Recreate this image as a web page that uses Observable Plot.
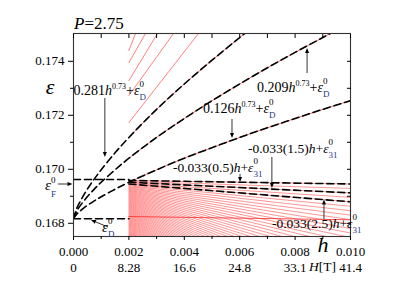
<!DOCTYPE html>
<html><head><meta charset="utf-8">
<script src="https://cdn.jsdelivr.net/npm/d3@7"></script>
<script src="https://cdn.jsdelivr.net/npm/@observablehq/plot@0.6"></script>
<style>html,body{margin:0;padding:0;background:#fff;} svg{display:block} svg text{font-family:"Liberation Serif","Times New Roman","DejaVu Serif",serif;}</style>
</head><body><div id="chart"></div>
<script>
// ---- tick values and labels ----
const xMajor = [0, 0.002, 0.004, 0.006, 0.008, 0.010];
const xMinor = [0.001, 0.003, 0.005, 0.007, 0.009];
const xMajorLabels = ["0.000", "0.002", "0.004", "0.006", "0.008", "0.010"];
const fieldLabels = ["0", "8.28", "16.6", "24.8", "33.1", "41.4"];
const yMajor = [0.168, 0.170, 0.172, 0.174];
const yMinor = [0.169, 0.171, 0.173];
const yMajorLabels = ["0.168", "0.170", "0.172", "0.174"];

// ---- levels ----
const epsD0 = 0.16817;
const epsF0 = 0.16962;
const hLeft = [0, 0.002];
const hSpan = [0.002, 0.010];

// dashed asymptotic curves c*h^0.73 + epsD0
const hCurve = [0, 0.0001, 0.0002, 0.0004, 0.0006, 0.0008, 0.001, 0.0015, 0.002, 0.003, 0.004, 0.005, 0.006, 0.007, 0.008, 0.009, 0.010];
const curve281 = [0.16817, 0.16851, 0.16873, 0.16910, 0.16942, 0.16971, 0.16998, 0.17061, 0.17118, 0.17222, 0.17316, 0.17404, 0.17488, 0.17568, 0.17645, 0.17719, 0.17791];
const curve209 = [0.16817, 0.16842, 0.16859, 0.16886, 0.16910, 0.16932, 0.16952, 0.16998, 0.17041, 0.17118, 0.17188, 0.17254, 0.17316, 0.17376, 0.17433, 0.17488, 0.17542];
const curve126 = [0.16817, 0.16832, 0.16842, 0.16859, 0.16873, 0.16886, 0.16898, 0.16926, 0.16952, 0.16998, 0.17041, 0.17080, 0.17118, 0.17154, 0.17188, 0.17222, 0.17254];

// dashed asymptotic lines -0.033(k)h + eps31 (k = 0.5, 1.5, 2.5)
const asymStart = [0.169587, 0.169521, 0.169455];
const asymEnd = [0.169455, 0.169125, 0.168795];

// red computed levels: lower fan (value at h=0.002 and h=0.010)
const fanStart = [0.169587,0.169554,0.169521,0.169488,0.169455,0.169422,0.169389,0.169356,0.169323,0.169290,0.169257,0.169224,0.169191,0.169158,0.169125,0.169092,0.169059,0.169026,0.168993,0.168960,0.168927,0.168894,0.168861,0.168828,0.168795,0.168762,0.168729,0.168696,0.168663,0.168630,0.168597,0.168564,0.168531,0.168498,0.168465,0.168432,0.168399,0.168366,0.168333,0.168300,0.168267,0.168234,0.168201,0.168168,0.168135,0.168102,0.168069,0.168036,0.168003,0.167970,0.167937,0.167904,0.167871,0.167838,0.167805,0.167772,0.167739,0.167706,0.167673,0.167640,0.167607,0.167574,0.167541];
const fanEnd = [0.169455,0.169290,0.169125,0.168960,0.168795,0.168630,0.168465,0.168300,0.168135,0.167970,0.167805,0.167640,0.167475,0.167310,0.167145,0.166980,0.166815,0.166650,0.166485,0.166320,0.166155,0.165990,0.165825,0.165660,0.165495,0.165330,0.165165,0.165000,0.164835,0.164670,0.164505,0.164340,0.164175,0.164010,0.163845,0.163680,0.163515,0.163350,0.163185,0.163020,0.162855,0.162690,0.162525,0.162360,0.162195,0.162030,0.161865,0.161700,0.161535,0.161370,0.161205,0.161040,0.160875,0.160710,0.160545,0.160380,0.160215,0.160050,0.159885,0.159720,0.159555,0.159390,0.159225];
// flat D-like level
const dLevel = [0.16825, 0.16813];
// steep upper levels: value at h=0.002 and exit point at the top
const upperStart = [0.174396, 0.173952, 0.173285, 0.172730, 0.171730];
const upperEndH = [0.002238, 0.002599, 0.003032, 0.003610, 0.004513];
const upperEndV = [0.17503, 0.17503, 0.17503, 0.17503, 0.17503];

// ---- tables ----
const fanRows = fanStart.flatMap((v, i) => [{h: hSpan[0], v, id: i}, {h: hSpan[1], v: fanEnd[i], id: i}]);
const upperRows = upperStart.flatMap((v, i) => [{h: hSpan[0], v, id: i}, {h: upperEndH[i], v: upperEndV[i], id: i}]);
const curveRows = (arr, name) => hCurve.map((h, i) => ({h, v: arr[i], id: name}));
const dashedCurves = [...curveRows(curve281, "a"), ...curveRows(curve209, "b"), ...curveRows(curve126, "c")];
const redCurves = dashedCurves.filter(d => d.h >= 0.002);
const asymRows = asymStart.flatMap((v, i) => [{h: hSpan[0], v, id: i}, {h: hSpan[1], v: asymEnd[i], id: i}]);
const flatRows = [
  {h: hLeft[0], v: epsD0, id: "D"}, {h: hLeft[1], v: epsD0, id: "D"},
  {h: hLeft[0], v: epsF0, id: "F"}, {h: hLeft[1], v: epsF0, id: "F"}
];
const dRows = [{h: hSpan[0], v: dLevel[0]}, {h: hSpan[1], v: dLevel[1]}];

const RED = "#ff2a2a";
const DASH = "7,4";
const SERIF = "'Liberation Serif','Times New Roman','DejaVu Serif',serif";
const idx = (arr, d) => arr.findIndex(t => Math.abs(t - d) < 1e-9);

const plot = Plot.plot({
  width: 407, height: 284,
  marginLeft: 73, marginRight: 57, marginTop: 33, marginBottom: 48,
  x: {domain: [0, 0.010]},
  y: {domain: [0.16751, 0.17503]},
  style: {fontFamily: SERIF, background: "white", color: "black"},
  marks: [
    Plot.line(fanRows, {x: "h", y: "v", z: "id", stroke: RED, strokeWidth: 0.5, clip: true}),
    Plot.line(dRows, {x: "h", y: "v", stroke: RED, strokeWidth: 0.8, clip: true}),
    Plot.line(upperRows, {x: "h", y: "v", z: "id", stroke: RED, strokeWidth: 0.6, clip: true}),
    Plot.line(redCurves, {x: "h", y: "v", z: "id", stroke: RED, strokeWidth: 0.7, curve: "catmull-rom", clip: true}),
    Plot.line(dashedCurves, {x: "h", y: "v", z: "id", stroke: "black", strokeWidth: 1.6, strokeDasharray: DASH, curve: "catmull-rom", clip: true}),
    Plot.line(asymRows, {x: "h", y: "v", z: "id", stroke: "black", strokeWidth: 1.6, strokeDasharray: DASH, clip: true}),
    Plot.line(flatRows, {x: "h", y: "v", z: "id", stroke: "black", strokeWidth: 1.6, strokeDasharray: DASH, clip: true}),
    Plot.frame({stroke: "#333", strokeWidth: 1.1}),
    // left axis
    Plot.axisY({ticks: yMajor, tickSize: 5, tickPadding: 4, fontSize: 13, label: null,
      tickFormat: d => yMajorLabels[idx(yMajor, d)]}),
    Plot.axisY({ticks: yMinor, tickSize: 3, tickFormat: () => "", label: null}),
    // right axis (inward)
    Plot.axisY({anchor: "right", ticks: [...yMajor, ...yMinor], tickSize: 4, dx: -4, tickFormat: () => "", label: null}),
    // top axis (inward)
    Plot.axisX({anchor: "top", ticks: [...xMajor, ...xMinor], tickSize: 4, dy: 4, tickFormat: () => "", label: null}),
    // bottom axis
    Plot.axisX({ticks: xMajor, tickSize: 4, tickPadding: 6, fontSize: 13, label: null,
      tickFormat: d => xMajorLabels[idx(xMajor, d)]}),
    Plot.axisX({ticks: xMinor, tickSize: 3, tickFormat: () => "", label: null}),
    Plot.axisX({ticks: xMajor, tickSize: 0, tickPadding: 26, fontSize: 13, label: null,
      tickFormat: d => fieldLabels[idx(xMajor, d)]})
  ]
});
document.getElementById("chart").appendChild(plot);

// ---- annotations ----
const sx = plot.scale("x"), sy = plot.scale("y");
const svg = d3.select(plot);
const BLUE = "#26388c";

function mtext(px, py, parts, size, anchor = "start") {
  const t = svg.append("text").attr("x", px).attr("y", py)
    .attr("font-family", SERIF).attr("font-size", size).attr("fill", "black")
    .attr("text-anchor", anchor);
  for (const p of parts) {
    const ts = t.append("tspan").text(p.t);
    if (p.s) ts.attr("font-size", p.s);
    if (p.dy) ts.attr("dy", p.dy);
    if (p.dx) ts.attr("dx", p.dx);
    if (p.i) ts.attr("font-style", "italic");
    if (p.f) ts.attr("fill", p.f);
  }
  return t;
}
const eps = (sub, supDy = -8, subDy = 13, back = -4.5) => [
  {t: "ε", i: 1}, {t: "0", s: 9, dy: supDy}, {t: sub, s: 9, dx: back, dy: subDy, f: BLUE}
];
const power = (c) => [{t: c}, {t: "h", i: 1}, {t: "0.73", s: 8, dy: -6}, {t: "+", dy: 6}, ...eps("D")];
const linear = (k) => [{t: "-0.033(" + k + ")"}, {t: "h", i: 1}, {t: "+"}, ...eps("31")];

function arrow(h1, v1, h2, v2) {
  const x1 = sx.apply(h1), y1 = sy.apply(v1), x2 = sx.apply(h2), y2 = sy.apply(v2);
  const a = Math.atan2(y2 - y1, x2 - x1), L = 5, W = 2;
  const bx = x2 - L * Math.cos(a), by = y2 - L * Math.sin(a);
  svg.append("line").attr("x1", x1).attr("y1", y1).attr("x2", bx).attr("y2", by)
    .attr("stroke", "black").attr("stroke-width", 0.8);
  const px = -Math.sin(a) * W, py = Math.cos(a) * W;
  svg.append("path").attr("d", `M${x2},${y2}L${bx + px},${by + py}L${bx - px},${by - py}Z`).attr("fill", "black");
}

// in-plot labels (data coordinates)
mtext(sx.apply(0.00002), sy.apply(0.172733), power("0.281"), 14);
mtext(sx.apply(0.006643), sy.apply(0.172844), power("0.209"), 14);
mtext(sx.apply(0.004693), sy.apply(0.172066), power("0.126"), 14);
mtext(sx.apply(0.00361), sy.apply(0.169881), linear("0.5"), 13.5);
mtext(sx.apply(0.006318), sy.apply(0.170585), linear("1.5"), 13.5);
mtext(sx.apply(0.007184), sy.apply(0.16781), linear("2.5"), 13.5);
mtext(sx.apply(0.001047), sy.apply(0.167658), eps("D", -8, 13), 15);
mtext(sx.apply(-0.001011), sy.apply(0.169214), eps("F", -7, 14), 15);

arrow(0.00115, 0.172622, 0.00115, 0.170436);
arrow(0.00845, 0.173548, 0.00845, 0.174474);
arrow(0.00574, 0.171844, 0.00574, 0.171140);
arrow(0.00603, 0.169807, 0.00603, 0.169510);
arrow(0.00718, 0.170436, 0.00718, 0.169288);
arrow(0.00906, 0.168140, 0.00906, 0.168862);
arrow(-0.000542, 0.169436, -0.000018, 0.169436);
arrow(0.001264, 0.167843, 0.00065, 0.168103);

// title and axis names (pixel placement in margins)
mtext(74, 29, [{t: "P", i: 1}, {t: "=2.75"}], 17);
mtext(50, 94, [{t: "ε", i: 1}], 22, "middle");
mtext(323, 252, [{t: "h", i: 1}], 22, "middle");
mtext(309, 271, [{t: "H", i: 1}, {t: "[T]"}], 13.5);
</script>
</body></html>
